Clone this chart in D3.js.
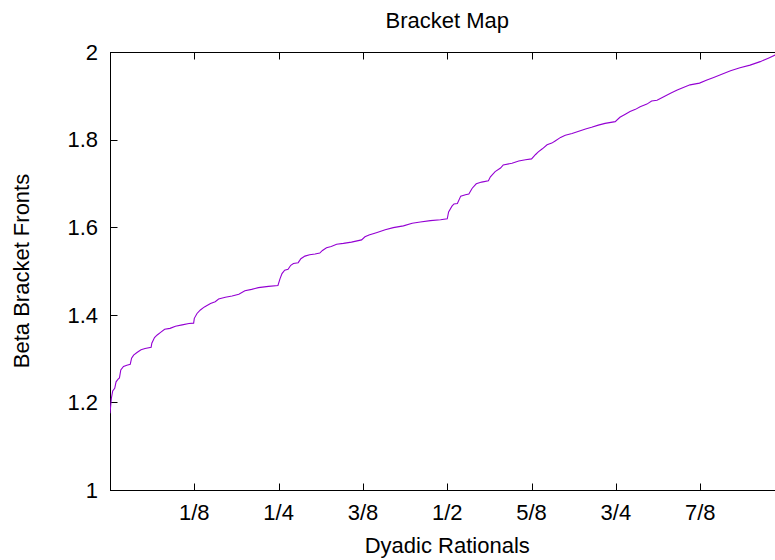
<!DOCTYPE html>
<html>
<head>
<meta charset="utf-8">
<script src="https://cdn.jsdelivr.net/npm/d3@7"></script>
<style>
  html, body { margin: 0; padding: 0; background: #fff; }
  svg { display: block; }
  text { font-family: "Liberation Sans", Arial, Helvetica, sans-serif; fill: #000; }
</style>
</head>
<body>
<div id="chart"></div>
<script>
// Bracket map sampled at dyadic positions in [0, 1]
const dyadicX = [
  0.000, 0.002, 0.004, 0.007, 0.009, 0.012, 0.014, 0.016, 0.020, 0.025,
  0.030, 0.032, 0.035, 0.040, 0.046, 0.052, 0.061, 0.062, 0.066, 0.070,
  0.075, 0.081, 0.089, 0.097, 0.107, 0.117, 0.124, 0.125, 0.129, 0.134,
  0.140, 0.149, 0.156, 0.161, 0.171, 0.181, 0.191, 0.200, 0.210, 0.220,
  0.235, 0.249, 0.252, 0.255, 0.259, 0.264, 0.268, 0.272, 0.279, 0.283,
  0.289, 0.296, 0.304, 0.311, 0.315, 0.321, 0.328, 0.336, 0.346, 0.358,
  0.373, 0.378, 0.384, 0.390, 0.396, 0.408, 0.420, 0.435, 0.448, 0.460,
  0.475, 0.490, 0.500, 0.502, 0.507, 0.510, 0.515, 0.520, 0.527, 0.532,
  0.537, 0.543, 0.551, 0.561, 0.564, 0.571, 0.579, 0.583, 0.596, 0.606,
  0.616, 0.625, 0.631, 0.635, 0.641, 0.648, 0.655, 0.660, 0.668, 0.675,
  0.685, 0.695, 0.705, 0.714, 0.724, 0.734, 0.749, 0.756, 0.764, 0.771,
  0.779, 0.786, 0.796, 0.803, 0.811, 0.821, 0.831, 0.841, 0.850, 0.860,
  0.874, 0.885, 0.895, 0.907, 0.920, 0.934, 0.949, 0.964, 0.976, 0.986,
  1.000
];
const bracketFronts = [
  1.175, 1.209, 1.226, 1.232, 1.247, 1.253, 1.256, 1.274, 1.282, 1.285,
  1.287, 1.301, 1.308, 1.314, 1.320, 1.323, 1.326, 1.335, 1.348, 1.354,
  1.360, 1.367, 1.369, 1.374, 1.377, 1.380, 1.381, 1.392, 1.403, 1.411,
  1.418, 1.426, 1.430, 1.436, 1.440, 1.443, 1.447, 1.455, 1.458, 1.462,
  1.465, 1.467, 1.482, 1.494, 1.502, 1.504, 1.513, 1.517, 1.519, 1.528,
  1.534, 1.537, 1.539, 1.541, 1.547, 1.553, 1.556, 1.561, 1.563, 1.566,
  1.571, 1.578, 1.582, 1.585, 1.588, 1.594, 1.599, 1.603, 1.609, 1.612,
  1.615, 1.617, 1.619, 1.635, 1.648, 1.653, 1.654, 1.671, 1.674, 1.676,
  1.689, 1.699, 1.703, 1.706, 1.715, 1.727, 1.735, 1.742, 1.746, 1.751,
  1.754, 1.756, 1.766, 1.772, 1.779, 1.788, 1.792, 1.797, 1.805, 1.810,
  1.814, 1.819, 1.824, 1.828, 1.833, 1.837, 1.841, 1.851, 1.858, 1.864,
  1.869, 1.875, 1.881, 1.888, 1.890, 1.898, 1.906, 1.913, 1.919, 1.925,
  1.929, 1.936, 1.942, 1.949, 1.957, 1.964, 1.970, 1.978, 1.986, 1.993,
  2.000
];

const xTickValues = [1/8, 2/8, 3/8, 4/8, 5/8, 6/8, 7/8];
const xTickLabels = ["1/8", "1/4", "3/8", "1/2", "5/8", "3/4", "7/8"];
const yTickValues = [1, 1.2, 1.4, 1.6, 1.8, 2];
const yTickLabels = ["1", "1.2", "1.4", "1.6", "1.8", "2"];

const chartTitle = "Bracket Map";
const xTitle = "Dyadic Rationals";
const yTitle = "Beta Bracket Fronts";

const W = 775, H = 560;
const plotL = 110, plotR = 784.5, plotT = 52, plotB = 490;

const svg = d3.select("#chart").append("svg")
  .attr("width", W).attr("height", H);

const x = d3.scaleLinear().domain([0, 1]).range([plotL, plotR]);
const y = d3.scaleLinear().domain([1, 2]).range([plotB, plotT]);

const tickLen = 7;
const fontSize = 22;

// Frame
const frame = svg.append("g").attr("stroke", "#000").attr("stroke-width", 1).attr("fill", "none");
frame.append("rect")
  .attr("x", plotL + 0.5).attr("y", plotT + 0.5)
  .attr("width", plotR - plotL).attr("height", plotB - plotT);

// Inward ticks along the bottom, mirrored along the top
const tickIdx = d3.range(xTickValues.length);
frame.selectAll("line.xb").data(tickIdx).join("line")
  .attr("x1", i => Math.round(x(xTickValues[i])) + 0.5)
  .attr("x2", i => Math.round(x(xTickValues[i])) + 0.5)
  .attr("y1", plotB + 0.5).attr("y2", plotB + 0.5 - tickLen);
frame.selectAll("line.xt").data(tickIdx).join("line")
  .attr("x1", i => Math.round(x(xTickValues[i])) + 0.5)
  .attr("x2", i => Math.round(x(xTickValues[i])) + 0.5)
  .attr("y1", plotT + 0.5).attr("y2", plotT + 0.5 + tickLen);

const yIdx = d3.range(yTickValues.length);
frame.selectAll("line.yl").data(yIdx).join("line")
  .attr("x1", plotL + 0.5).attr("x2", plotL + 0.5 + tickLen)
  .attr("y1", i => Math.round(y(yTickValues[i])) + 0.5)
  .attr("y2", i => Math.round(y(yTickValues[i])) + 0.5);
frame.selectAll("line.yr").data(yIdx).join("line")
  .attr("x1", plotR + 0.5).attr("x2", plotR + 0.5 - tickLen)
  .attr("y1", i => Math.round(y(yTickValues[i])) + 0.5)
  .attr("y2", i => Math.round(y(yTickValues[i])) + 0.5);

// Tick labels
svg.append("g").selectAll("text").data(tickIdx).join("text")
  .attr("x", i => x(xTickValues[i]))
  .attr("y", plotB + 30)
  .attr("text-anchor", "middle")
  .attr("font-size", fontSize)
  .text(i => xTickLabels[i]);

svg.append("g").selectAll("text").data(yIdx).join("text")
  .attr("x", plotL - 12)
  .attr("y", i => y(yTickValues[i]))
  .attr("dy", "0.35em")
  .attr("text-anchor", "end")
  .attr("font-size", fontSize)
  .text(i => yTickLabels[i]);

// Titles
svg.append("text")
  .attr("x", (plotL + plotR) / 2).attr("y", 28)
  .attr("text-anchor", "middle").attr("font-size", fontSize)
  .text(chartTitle);

svg.append("text")
  .attr("x", (plotL + plotR) / 2).attr("y", 553)
  .attr("text-anchor", "middle").attr("font-size", fontSize)
  .text(xTitle);

svg.append("text")
  .attr("transform", `translate(29, ${(plotT + plotB) / 2}) rotate(-90)`)
  .attr("text-anchor", "middle").attr("font-size", fontSize)
  .text(yTitle);

// Curve
svg.append("clipPath").attr("id", "plot-clip")
  .append("rect").attr("x", plotL).attr("y", plotT)
  .attr("width", plotR - plotL + 1).attr("height", plotB - plotT + 1);

const line = d3.line()
  .x((d, i) => x(dyadicX[i]))
  .y(d => y(d));

svg.append("path")
  .datum(bracketFronts)
  .attr("clip-path", "url(#plot-clip)")
  .attr("fill", "none")
  .attr("stroke", "#9400d3")
  .attr("stroke-width", 1.1)
  .attr("d", line);
</script>
</body>
</html>
